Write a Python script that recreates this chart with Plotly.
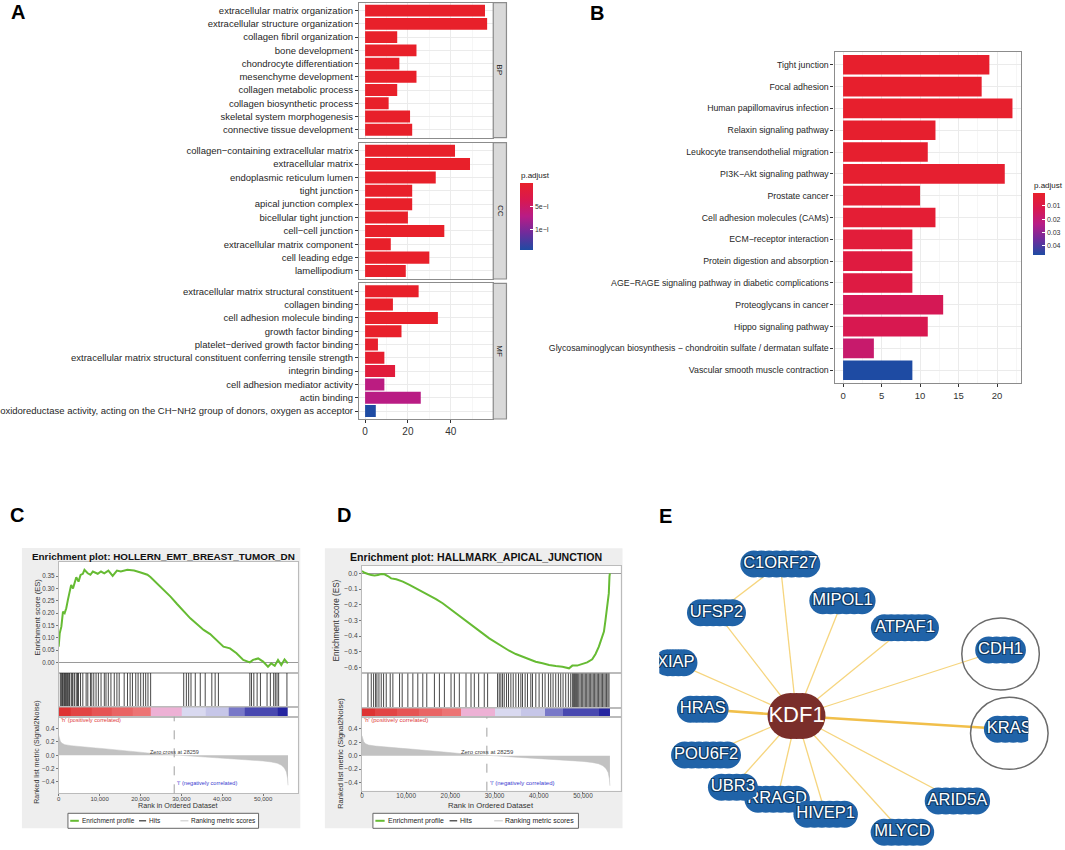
import plotly.graph_objects as go

W, H = 1065, 850
FONT = "Liberation Sans, Arial, Helvetica, sans-serif"

# ---------------- Panel A : GO enrichment ----------------
bp_terms = ["extracellular matrix organization", "extracellular structure organization",
            "collagen fibril organization", "bone development", "chondrocyte differentiation",
            "mesenchyme development", "collagen metabolic process", "collagen biosynthetic process",
            "skeletal system morphogenesis", "connective tissue development"]
bp_counts = [56, 57, 15, 24, 16, 24, 15, 11, 21, 22]
bp_padj = [1e-12, 1e-12, 1e-9, 1e-9, 1e-8, 1e-8, 1e-7, 1e-7, 1e-7, 1e-7]

cc_terms = ["collagen−containing extracellular matrix", "extracellular matrix",
            "endoplasmic reticulum lumen", "tight junction", "apical junction complex",
            "bicellular tight junction", "cell−cell junction", "extracellular matrix component",
            "cell leading edge", "lamellipodium"]
cc_counts = [42, 49, 33, 22, 22, 20, 37, 12, 30, 19]
cc_padj = [1e-15, 1e-15, 1e-9, 1e-8, 1e-8, 1e-8, 1e-7, 1e-6, 1e-6, 1e-5]

mf_terms = ["extracellular matrix structural constituent", "collagen binding",
            "cell adhesion molecule binding", "growth factor binding",
            "platelet−derived growth factor binding",
            "extracellular matrix structural constituent conferring tensile strength",
            "integrin binding", "cell adhesion mediator activity", "actin binding",
            "oxidoreductase activity, acting on the CH−NH2 group of donors, oxygen as acceptor"]
mf_counts = [25, 13, 34, 17, 6, 9, 14, 9, 26, 5]
mf_padj = [1e-9, 1e-6, 1e-8, 1e-5, 3e-5, 6e-5, 1.8e-4, 7.0e-4, 7.2e-4, 1.46e-3]

a_cbar_vals = [5e-4, 1e-3]
a_cbar_text = ["5e−I", "1e−I"]

# ---------------- Panel B : KEGG enrichment ----------------
kegg_terms = ["Tight junction", "Focal adhesion", "Human papillomavirus infection",
              "Relaxin signaling pathway", "Leukocyte transendothelial migration",
              "PI3K−Akt signaling pathway", "Prostate cancer", "Cell adhesion molecules (CAMs)",
              "ECM−receptor interaction", "Protein digestion and absorption",
              "AGE−RAGE signaling pathway in diabetic complications", "Proteoglycans in cancer",
              "Hippo signaling pathway",
              "Glycosaminoglycan biosynthesis − chondroitin sulfate / dermatan sulfate",
              "Vascular smooth muscle contraction"]
kegg_counts = [19, 18, 22, 12, 11, 21, 10, 12, 9, 9, 9, 13, 11, 4, 9]
kegg_padj = [0.0008, 0.0009, 0.0011, 0.0014, 0.0017, 0.0019, 0.003, 0.0035, 0.005, 0.007,
             0.008, 0.013, 0.012, 0.018, 0.047]
b_cbar_vals = [0.01, 0.02, 0.03, 0.04]
b_cbar_text = ["0.01", "0.02", "0.03", "0.04"]

# ---------------- Panels C / D : GSEA ----------------
zero_cross = 28259
rank_ticks = [0, 10000, 20000, 30000, 40000, 50000]

es_c_rank = [0, 250, 650, 1050, 1450, 1850, 2250, 2650, 3050, 3500,
             3900, 4300, 4850, 5350, 5900, 6300, 7100, 7750, 8350, 9550,
             10350, 11150, 12150, 13200, 14250, 15200, 16800, 18450, 20050, 21700,
             22500, 24100, 25700, 27350, 28950, 30600, 32200, 33800, 35450, 37050,
             38650, 40300, 41900, 43500, 45150, 46750, 47550, 48800, 50000, 51200,
             52000, 52850, 53650, 54450, 55250, 56050]
es_c_val = [0.064, 0.118, 0.145, 0.206, 0.200, 0.220, 0.254, 0.280, 0.315, 0.300,
            0.320, 0.346, 0.328, 0.355, 0.360, 0.376, 0.362, 0.356, 0.369, 0.360,
            0.369, 0.362, 0.373, 0.351, 0.373, 0.369, 0.376, 0.373, 0.365, 0.356,
            0.346, 0.320, 0.294, 0.267, 0.237, 0.206, 0.179, 0.156, 0.132, 0.115,
            0.091, 0.064, 0.057, 0.037, 0.010, 0.000, 0.010, 0.016, 0.003, -0.018,
            -0.004, -0.014, 0.010, -0.011, 0.012, -0.004]
hits_c = [400, 650, 900, 1050, 1300, 1460, 1700, 1860, 2100, 2270, 2500, 2670, 3070, 3300,
          3480, 3880, 4290, 4600, 4850, 5340, 5900, 6710, 7120, 7770, 8090, 8580, 9140, 9710,
          10360, 11160, 11570, 12140, 12780, 13590, 14240, 14800, 16020, 16830, 17470, 18040,
          18850, 19420, 20060, 20710, 21280, 21840, 22490, 30580, 31230, 31790, 32360, 33410,
          34630, 35840, 37460, 38270, 39070, 46760, 47160, 47730, 48540, 49350, 50970, 51780,
          52590, 52990, 53400, 53800, 55830]

es_d_rank = [0, 600, 1350, 2100, 2850, 3600, 4350, 5100, 5850, 6600,
             7750, 9250, 10750, 12250, 13750, 15250, 16750, 18250, 19800, 21300,
             22800, 24300, 25800, 27300, 28800, 30300, 31800, 33300, 34800, 36300,
             37800, 39300, 40850, 42350, 43850, 45350, 46850, 47600, 48700, 49850,
             50950, 52100, 52850, 53600, 54350, 54750, 55100, 55500, 55850, 56000,
             56100]
es_d_val = [0.015, 0.004, -0.004, -0.011, -0.013, -0.011, -0.004, -0.006, -0.017, -0.032,
            -0.038, -0.053, -0.074, -0.096, -0.117, -0.138, -0.164, -0.191, -0.223, -0.255,
            -0.287, -0.319, -0.351, -0.383, -0.415, -0.443, -0.468, -0.494, -0.515, -0.532,
            -0.549, -0.564, -0.574, -0.585, -0.591, -0.596, -0.606, -0.589, -0.589, -0.579,
            -0.568, -0.549, -0.515, -0.468, -0.404, -0.372, -0.298, -0.213, -0.128, -0.021,
            0.0]
hits_d = [1350, 2100, 2630, 3080, 3380, 3840, 4360, 4890, 5490, 6390, 6990, 8500, 9100,
          10380, 11510, 12630, 13760, 14660, 16390, 17520, 18650, 20150, 20900, 22030, 23540,
          24670, 25420, 26400, 27670, 28430, 30680, 31060, 31430, 31810, 32190, 32710, 33160,
          33690, 34220, 34820, 35420, 35950, 36320, 36920, 37450, 38200, 38580, 39330, 40080,
          40830, 41430, 42190, 42710, 43240, 43840, 44440, 44970, 45500, 46100, 46700, 47230,
          47600, 47830, 48060, 48280, 48510, 48740, 49040, 49340, 49640, 49940, 50240, 50540,
          50840, 51140, 51440, 51740, 52040, 52340, 52640, 52940, 53240, 53540, 53840, 54140,
          54440, 54740, 55040, 55340, 55640, 55900]

metric_rank = [0, 150, 400, 800, 1500, 3000, 5000, 7000, 9000, 11000, 13000, 15000, 17000,
               19000, 21000, 22500, 25000, 28259, 31000, 35000, 39000, 43000, 47000, 50000,
               52000, 53500, 54500, 55200, 55700, 56000, 56100]
metric_val = [0.30, 0.25, 0.21, 0.18, 0.16, 0.145, 0.13, 0.12, 0.11, 0.10, 0.09, 0.08, 0.07,
              0.055, 0.04, 0.03, 0.02, 0.0, -0.01, -0.02, -0.035, -0.05, -0.065, -0.085,
              -0.10, -0.12, -0.15, -0.19, -0.25, -0.35, -0.45]

ribbon_edges = [0, 3000, 8000, 13000, 18000, 22500, 30200, 36000, 41500, 45500, 53600, 56100]
ribbon_colors = ['#DE3232', '#E24444', '#E65454', '#E96464', '#EC7474', '#EDB1D5',
                 '#D9D9F0', '#C6C6E8', '#7878C8', '#4848B0', '#2525A0']

# ---------------- Panel E : network ----------------
node_names = ["XIAP", "HRAS", "POU6F2", "RRAGD", "HIVEP1", "UBR3", "MLYCD", "ARID5A",
              "UFSP2", "C1ORF27", "MIPOL1", "ATPAF1", "CDH1", "KRAS", "KDF1"]
node_x = [674.5, 701.7, 705, 776.5, 825.3, 732, 902.5, 957.8, 715.5, 779.7, 842.2, 905,
          1001.2, 1010, 796]
node_y = [662.7, 709.3, 755, 799.3, 814.3, 787.3, 832.3, 801, 612.7, 564, 600.7, 627.7,
          650, 729.3, 716]
hub = "KDF1"
highlight = ["CDH1", "KRAS"]
edge_from = ["KDF1"] * 14 + ["UFSP2"]
edge_to = ["C1ORF27", "UFSP2", "MIPOL1", "ATPAF1", "CDH1", "XIAP", "HRAS", "POU6F2", "UBR3",
           "RRAGD", "HIVEP1", "MLYCD", "ARID5A", "KRAS", "C1ORF27"]
edge_weight = [1, 1, 1, 1, 1, 1, 2, 1, 1, 1, 1, 1, 1, 2, 1]

# =====================================================================
fig = go.Figure()
layout = dict(width=W, height=H, margin=dict(l=0, r=0, t=0, b=0), paper_bgcolor='white',
              plot_bgcolor='rgba(0,0,0,0)', showlegend=False,
              font=dict(family=FONT, color='#1A1A1A'))
shapes, annotations = [], []


def X(px):
    return px / W


def Y(py):
    return 1 - py / H


def dom_x(a, b):
    return [a / W, b / W]


def dom_y(top, bottom):
    return [1 - bottom / H, 1 - top / H]


def names(n):
    s = '' if n == 1 else str(n)
    return 'xaxis' + s, 'yaxis' + s, 'x' + s, 'y' + s


def note(text, x, y, size, color='#1A1A1A', xanchor='center', yanchor='middle', angle=0,
         xref='paper', xshift=0):
    annotations.append(dict(text=text, x=X(x) if xref == 'paper' else x, y=Y(y), xref=xref,
                            yref='paper', xanchor=xanchor, yanchor=yanchor, showarrow=False,
                            textangle=angle, borderpad=0, xshift=xshift,
                            font=dict(size=size, color=color, family=FONT)))


def rect(x0, y0, x1, y1, fill, line='rgba(0,0,0,0)', lw=0, layer='below'):
    shapes.append(dict(type='rect', xref='paper', yref='paper', x0=X(x0), x1=X(x1),
                       y0=Y(y1), y1=Y(y0), fillcolor=fill, line=dict(color=line, width=lw),
                       layer=layer))


PADJ_SCALE = [[0, '#1E4BA3'], [0.25, '#6E2C9C'], [0.5, '#B81C86'], [0.75, '#D9184F'],
              [1, '#E8202A']]
GRID, MINOR, FRAME = '#EBEBEB', '#F6F6F6', '#8C8C8C'

# ---------------- Panel A ----------------
A_X0, A_X1, A_STRIP = 356, 491, 504.3
a_facets = [("BP", bp_terms, bp_counts, bp_padj, 2.7, 137.7),
            ("CC", cc_terms, cc_counts, cc_padj, 142.7, 279.0),
            ("MF", mf_terms, mf_counts, mf_padj, 283.3, 419.0)]
a_max = max(bp_counts + cc_counts + mf_counts)
a_pmax = max(bp_padj + cc_padj + mf_padj)
for k, (lab, terms, counts, padj, top, bot) in enumerate(a_facets):
    n = k + 1
    xa, ya, xr, yr = names(n)
    fig.add_trace(go.Bar(x=counts, y=terms, orientation='h', width=0.9,
                         marker=dict(color=[-p for p in padj], coloraxis='coloraxis',
                                     line=dict(width=0)),
                         xaxis=xr, yaxis=yr, showlegend=False))
    last = k == len(a_facets) - 1
    layout[xa] = dict(domain=dom_x(A_X0, A_X1), anchor=yr,
                      range=[-0.05 * a_max, 1.05 * a_max], tick0=0, dtick=20,
                      showgrid=True, gridcolor=GRID, gridwidth=1, zeroline=False,
                      minor=dict(dtick=10, showgrid=True, gridcolor=MINOR, ticks=''),
                      showline=True, mirror=True, linecolor=FRAME, linewidth=1.2,
                      showticklabels=last, ticks='outside' if last else '', ticklen=3,
                      tickcolor='#333333',
                      tickfont=dict(size=10, color='#333333', family=FONT))
    layout[ya] = dict(domain=dom_y(top, bot), anchor=xr, type='category',
                      categoryorder='array', categoryarray=terms,
                      range=[len(terms) - 0.4, -0.6], showgrid=True, gridcolor=GRID,
                      zeroline=False, showline=True, mirror=True, linecolor=FRAME,
                      linewidth=1.2, ticks='outside', ticklen=3, tickcolor='#333333',
                      tickfont=dict(size=9.5, color='#262626', family=FONT))
    rect(A_X1, top, A_STRIP, bot, '#D9D9D9', FRAME, 1.2, layer='above')
    note(lab, (A_X1 + A_STRIP) / 2, (top + bot) / 2, 8, angle=90)

layout['coloraxis'] = dict(
    colorscale=PADJ_SCALE, cmin=-a_pmax, cmax=0,
    colorbar=dict(x=X(518), xanchor='left', xref='paper', y=Y(183.3), yanchor='top',
                  yref='paper', len=67.4, lenmode='pixels', thickness=12.7,
                  thicknessmode='pixels', outlinewidth=0, xpad=0, ypad=0,
                  tickvals=[-v for v in a_cbar_vals], ticktext=a_cbar_text, ticks='inside',
                  ticklen=3, tickcolor='white',
                  tickfont=dict(size=7, color='#333333', family=FONT)))
note("p.adjust", 518, 176, 8, xanchor='left')

# ---------------- Panel B ----------------
B_X0, B_X1, B_TOP, B_BOT = 834.3, 1021.7, 51.7, 383.3
b_max = max(kegg_counts)
fig.add_trace(go.Bar(x=kegg_counts, y=kegg_terms, orientation='h', width=0.9,
                     marker=dict(color=[-p for p in kegg_padj], coloraxis='coloraxis2',
                                 line=dict(width=0)),
                     xaxis='x4', yaxis='y4', showlegend=False))
layout['xaxis4'] = dict(domain=dom_x(B_X0, B_X1), anchor='y4',
                        range=[-0.05 * b_max, 1.05 * b_max], tick0=0, dtick=5,
                        showgrid=True, gridcolor=GRID, zeroline=False,
                        minor=dict(dtick=2.5, showgrid=True, gridcolor=MINOR, ticks=''),
                        showline=True, mirror=True, linecolor=FRAME, linewidth=1.2,
                        ticks='outside', ticklen=3, tickcolor='#333333',
                        tickfont=dict(size=9.5, color='#333333', family=FONT))
layout['yaxis4'] = dict(domain=dom_y(B_TOP, B_BOT), anchor='x4', type='category',
                        categoryorder='array', categoryarray=kegg_terms,
                        range=[len(kegg_terms) - 0.4, -0.6], showgrid=True, gridcolor=GRID,
                        zeroline=False, showline=True, mirror=True, linecolor=FRAME,
                        linewidth=1.2, ticks='outside', ticklen=3, tickcolor='#333333',
                        tickfont=dict(size=8.75, color='#262626', family=FONT))
layout['coloraxis2'] = dict(
    colorscale=PADJ_SCALE, cmin=-0.047, cmax=0,
    colorbar=dict(x=X(1034.3), xanchor='left', xref='paper', y=Y(192.7), yanchor='top',
                  yref='paper', len=62.3, lenmode='pixels', thickness=12.4,
                  thicknessmode='pixels', outlinewidth=0, xpad=0, ypad=0,
                  tickvals=[-v for v in b_cbar_vals], ticktext=b_cbar_text, ticks='inside',
                  ticklen=3, tickcolor='white',
                  tickfont=dict(size=7, color='#333333', family=FONT)))
note("p.adjust", 1034, 186, 8, xanchor='left')

# ---------------- Panels C / D ----------------
GREEN = '#66BB33'
X_MAX = 58500


def gsea(n0, g, title, es_rank, es_val, hits, es_range, es_ticks, es_fmt, rk_range):
    s = g['scale']
    ids = [names(n0 + i) for i in range(4)]
    bx0, by0, bx1, by1 = g['bg']
    rect(bx0, by0, bx1, by1, '#EEEEEE')
    rect(g['left'], g['es_top'], g['right'], g['bottom'], 'white')
    tops = [g['es_top'], g['hits_top'], g['rib_top'], g['rank_top'], g['bottom']]
    for i, (xa, ya, xr, yr) in enumerate(ids):
        layout[xa] = dict(domain=dom_x(g['left'], g['right']), anchor=yr, range=[0, X_MAX],
                          showgrid=False, zeroline=False, showline=True, mirror=True,
                          linecolor='#BBBBBB', linewidth=1, showticklabels=False, ticks='')
        layout[ya] = dict(domain=dom_y(tops[i], tops[i + 1]), anchor=xr, showgrid=False,
                          zeroline=False, showline=True, mirror=True, linecolor='#BBBBBB',
                          linewidth=1, showticklabels=False, ticks='', range=[0, 1])
    # ES curve
    xa, ya, xr, yr = ids[0]
    fig.add_trace(go.Scatter(x=es_rank, y=es_val, mode='lines', xaxis=xr, yaxis=yr,
                             line=dict(color=GREEN, width=2), showlegend=False))
    layout[ya].update(range=es_range, tickvals=es_ticks, tickformat=es_fmt,
                      showticklabels=True, ticks='outside', ticklen=2, tickcolor='#777777',
                      tickfont=dict(size=6.3 * s, color='#444444', family=FONT),
                      zeroline=True, zerolinecolor='#9A9A9A', zerolinewidth=1)
    # hits
    xa, ya, xr, yr = ids[1]
    hx, hy = [], []
    for h in hits:
        hx += [h, h, None]
        hy += [0, 1, None]
    fig.add_trace(go.Scatter(x=hx, y=hy, mode='lines', xaxis=xr, yaxis=yr,
                             line=dict(color='#1A1A1A', width=0.8), showlegend=False))
    # ribbon
    xa, ya, xr, yr = ids[2]
    nseg = len(ribbon_colors)
    cs = []
    for i, c in enumerate(ribbon_colors):
        cs += [[i / nseg, c], [(i + 1) / nseg, c]]
    fig.add_trace(go.Heatmap(x=ribbon_edges, y=[0, 1], z=[list(range(nseg))], colorscale=cs,
                             zmin=-0.5, zmax=nseg - 0.5, showscale=False, hoverinfo='skip',
                             xaxis=xr, yaxis=yr))
    # ranked metric
    xa, ya, xr, yr = ids[3]
    fig.add_trace(go.Scatter(x=metric_rank, y=metric_val, mode='lines', fill='tozeroy',
                             fillcolor='#C2C2C2', line=dict(color='#C2C2C2', width=0.5),
                             xaxis=xr, yaxis=yr, showlegend=False))
    layout[xa].update(showticklabels=True, tickvals=rank_ticks, tickformat=',',
                      ticks='outside', ticklen=2, tickcolor='#777777', ticklabelstandoff=-3,
                      tickfont=dict(size=6 * s, color='#444444', family=FONT))
    layout[ya].update(range=rk_range, tickvals=[-0.4, -0.2, 0, 0.2, 0.4], tickformat='.1f',
                      showticklabels=True, ticks='outside', ticklen=2, tickcolor='#777777',
                      tickfont=dict(size=6.3 * s, color='#444444', family=FONT))
    shapes.append(dict(type='line', xref=xr, yref=yr + ' domain', x0=zero_cross,
                       x1=zero_cross, y0=0, y1=1, line=dict(color='#A0A0A0', width=1,
                                                           dash='dash')))
    note("'h' (positively correlated)", g['left'] + 1, g['h_y'], 5.6 * s, color='#E03A3A',
         xanchor='left')
    note("Zero cross at %d" % zero_cross, zero_cross, g['zero_y'], 5.5 * s, color='#444444',
         xref=xr)
    note("'l' (negatively correlated)", zero_cross, g['l_y'], 5.6 * s, color='#3A3ACF',
         xanchor='left', xref=xr, xshift=2)
    # titles
    note("<b>%s</b>" % title, g['title'][0], g['title'][1], 9.9 * s, color='#111111')
    note("Enrichment score (ES)", g['es_title'][0], g['es_title'][1], 7.6 * s,
         color='#333333', angle=-90)
    note("Ranked list metric (Signal2Noise)", g['rank_title'][0], g['rank_title'][1],
         7.0 * s, color='#333333', angle=-90)
    note("Rank in Ordered Dataset", (g['left'] + g['right']) / 2, g['x_title_y'], 7.2 * s,
         color='#333333')
    # legend box
    lx0, ly0, lx1, ly1 = g['legend']
    rect(lx0, ly0, lx1, ly1, 'white', '#666666', 1, layer='above')
    lw = lx1 - lx0
    ym = (ly0 + ly1) / 2
    items = [(0.012, 0.057, 0.070, GREEN, 2, "Enrichment profile"),
             (0.373, 0.410, 0.421, '#333333', 1.2, "Hits"),
             (0.590, 0.632, 0.640, '#CFCFCF', 1.2, "Ranking metric scores")]
    for a, b, t, col, wd, txt in items:
        shapes.append(dict(type='line', xref='paper', yref='paper', x0=X(lx0 + a * lw),
                           x1=X(lx0 + b * lw), y0=Y(ym), y1=Y(ym),
                           line=dict(color=col, width=wd)))
        note(txt, lx0 + t * lw, ym, 6.5 * s, color='#222222', xanchor='left')


C_GEOM = dict(bg=(17, 548, 297, 828.3), left=54, right=294.5, es_top=561.7, hits_top=672.7,
              rib_top=707.3, rank_top=716.7, bottom=793.3, title=(159.5, 556),
              es_title=(31.7, 617), rank_title=(32, 752), x_title_y=805.5, h_y=720.3,
              zero_y=752.3, l_y=783.3, legend=(63.3, 813.3, 255, 828.3), scale=1.0)
D_GEOM = dict(bg=(321.7, 548.3, 621, 828.3), left=359, right=619, es_top=566, hits_top=673.3,
              rib_top=708.3, rank_top=717.3, bottom=790.7, title=(474, 556.7),
              es_title=(333.3, 620), rank_title=(336.7, 753), x_title_y=805.5, h_y=720.3,
              zero_y=752.3, l_y=783.3, legend=(370, 813.3, 576.7, 828.3), scale=1.07)

gsea(5, C_GEOM, "Enrichment plot: HOLLERN_EMT_BREAST_TUMOR_DN", es_c_rank, es_c_val, hits_c,
     [-0.042, 0.409], [0, 0.05, 0.10, 0.15, 0.20, 0.25, 0.30, 0.35], '.2f', [-0.571, 0.58])
gsea(9, D_GEOM, "Enrichment plot: HALLMARK_APICAL_JUNCTION", es_d_rank, es_d_val, hits_d,
     [-0.638, 0.047], [-0.6, -0.5, -0.4, -0.3, -0.2, -0.1, 0.0], '.1f', [-0.524, 0.575])

# ---------------- Panel E ----------------
E_X0, E_X1, E_TOP, E_BOT, KRAS_CLIP = 658, 1065, 545, 850, 1029
layout['xaxis13'] = dict(domain=dom_x(E_X0, E_X1), range=[E_X0, E_X1], visible=False,
                         anchor='y13')
layout['yaxis13'] = dict(domain=dom_y(E_TOP, E_BOT), range=[E_BOT, E_TOP], visible=False,
                         anchor='x13')
layout['xaxis14'] = dict(domain=dom_x(E_X0, KRAS_CLIP), range=[E_X0, KRAS_CLIP],
                         visible=False, anchor='y14')
layout['yaxis14'] = dict(domain=dom_y(E_TOP, E_BOT), range=[E_BOT, E_TOP], visible=False,
                         anchor='x14')

pos = {nm: (x, y) for nm, x, y in zip(node_names, node_x, node_y)}
for wsel, col, wd in [(1, '#F6D57E', 1.3), (2, '#F1BF4A', 2.6)]:
    ex, ey = [], []
    for a, b, w in zip(edge_from, edge_to, edge_weight):
        if w == wsel:
            ex += [pos[a][0], pos[b][0], None]
            ey += [pos[a][1], pos[b][1], None]
    fig.add_trace(go.Scatter(x=ex, y=ey, mode='lines', line=dict(color=col, width=wd),
                             xaxis='x13', yaxis='y13', hoverinfo='skip', showlegend=False))

EM = {'A': .667, 'B': .667, 'C': .722, 'D': .722, 'E': .667, 'F': .611, 'G': .778, 'H': .722,
      'I': .278, 'K': .667, 'L': .556, 'M': .833, 'N': .722, 'O': .778, 'P': .667, 'R': .722,
      'S': .667, 'T': .611, 'U': .722, 'V': .667, 'X': .667, 'Y': .667}
SHADOW = ("1px 1px 0 #0E3A66, -1px -1px 0 #0E3A66, 1px -1px 0 #0E3A66, "
          "-1px 1px 0 #0E3A66")
for nm, cx, cy in zip(node_names, node_x, node_y):
    is_hub = nm == hub
    fs = 22 if is_hub else 16.5
    tw = sum(EM.get(ch, .556) for ch in nm) * fs
    h = 46 if is_hub else 27
    w = 58 if is_hub else tw + 6
    span = max(w - h, 0)
    m = max(2, int(span / 8) + 2)
    bx = [cx - span / 2 + span * i / (m - 1) for i in range(m)]
    ax = ('x14', 'y14') if nm == "KRAS" else ('x13', 'y13')
    fig.add_trace(go.Scatter(x=bx, y=[cy] * m, mode='markers', xaxis=ax[0], yaxis=ax[1],
                             marker=dict(size=h, color='#7A2E2A' if is_hub else '#2063A8',
                                         line=dict(width=0)),
                             hoverinfo='skip', showlegend=False))
    fig.add_trace(go.Scatter(x=[cx], y=[cy], mode='text', text=[nm], xaxis=ax[0],
                             yaxis=ax[1], textposition='middle center',
                             textfont=dict(size=fs, color='white', family=FONT,
                                           shadow='none' if is_hub else SHADOW),
                             hoverinfo='skip', showlegend=False))
for nm in highlight:
    cx, cy = pos[nm]
    shapes.append(dict(type='circle', xref='x13', yref='y13', x0=cx - 39, x1=cx + 39,
                       y0=cy + 4 - 36, y1=cy + 4 + 36, line=dict(color='#6B6B6B', width=1.5),
                       layer='above'))

# ---------------- panel letters ----------------
for lab, x, y in [("A", 13.5, 12), ("B", 595.5, 13.5), ("C", 12, 515), ("D", 341, 515),
                  ("E", 664, 515.5)]:
    note("<b>%s</b>" % lab, x, y, 20, color='#000000')

layout['shapes'] = shapes
layout['annotations'] = annotations
fig.update_layout(**layout)
fig.write_html("out.html", config={'displayModeBar': False},
               post_script="document.body.style.margin='0px';"
                           "document.body.style.overflow='hidden';")
